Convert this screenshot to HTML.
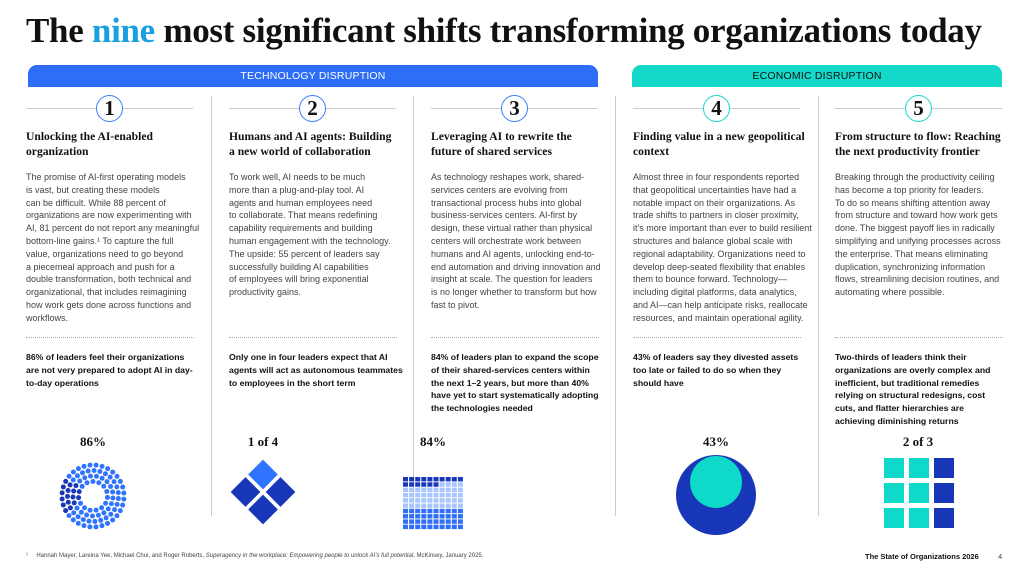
<!DOCTYPE html>
<html><head><meta charset="utf-8"><style>
*{margin:0;padding:0;box-sizing:border-box}
body{width:1024px;height:569px;background:#fff;position:relative;overflow:hidden;font-family:"Liberation Sans",sans-serif;color:#222}
.t{position:absolute;left:26px;top:11px;font-family:"Liberation Serif",serif;font-weight:bold;font-size:35px;color:#111;letter-spacing:-0.3px;white-space:nowrap}
.band{position:absolute;top:65px;height:22px;border-radius:9px 9px 0 0;font-size:10.5px;text-align:center;line-height:23px;letter-spacing:0.2px}
.col{position:absolute;top:95px;width:172px}
.num{position:absolute;top:0;width:27px;height:27px;border-radius:50%;border:1.5px solid #3b7bff;background:#fff;font-family:"Liberation Serif",serif;font-weight:bold;font-size:21px;text-align:center;line-height:25px;color:#111}
.hl{position:absolute;top:13px;left:0;width:167px;height:1px;background:#ccc}
.h{position:absolute;top:34px;left:0;font-family:"Liberation Serif",serif;font-weight:bold;font-size:11.6px;line-height:15px;color:#111;white-space:nowrap}
.b{position:absolute;top:76px;left:0;font-size:9px;line-height:12.8px;color:#444;white-space:nowrap}
.dl{position:absolute;top:242px;left:0;width:168px;border-top:1px dotted #aaa}
.s{position:absolute;top:256px;left:0;font-size:8.7px;line-height:12.8px;font-weight:bold;color:#111;white-space:nowrap}
.v{position:absolute;top:96px;width:1px;height:420px;background:#ccc}
.lab{position:absolute;font-family:"Liberation Serif",serif;font-weight:bold;font-size:13px;color:#111;text-align:center;width:80px}
</style></head><body>
<div class="t">The <span style="color:#1aa0e0">nine</span> most significant shifts transforming organizations today</div>
<div class="band" style="left:28px;width:570px;background:#2e6df6;color:#fff">TECHNOLOGY DISRUPTION</div>
<div class="band" style="left:632px;width:370px;background:#14d9c8;color:#111">ECONOMIC DISRUPTION</div>
<div class="v" style="left:211px"></div><div class="v" style="left:413px"></div><div class="v" style="left:615px"></div><div class="v" style="left:818px"></div>

<div class="col" style="left:26px"><div class="hl"></div><div class="num" style="left:70px">1</div>
<div class="h">Unlocking the AI-enabled<br>organization</div>
<div class="b">The promise of AI-first operating models<br>is vast, but creating these models<br>can be difficult. While 88 percent of<br>organizations are now experimenting with<br>AI, 81 percent do not report any meaningful<br>bottom-line gains.¹ To capture the full<br>value, organizations need to go beyond<br>a piecemeal approach and push for a<br>double transformation, both technical and<br>organizational, that includes reimagining<br>how work gets done across functions and<br>workflows.</div>
<div class="dl"></div>
<div class="s">86% of leaders feel their organizations<br>are not very prepared to adopt AI in day-<br>to-day operations</div></div>

<div class="col" style="left:229px"><div class="hl"></div><div class="num" style="left:70px">2</div>
<div class="h">Humans and AI agents: Building<br>a new world of collaboration</div>
<div class="b">To work well, AI needs to be much<br>more than a plug-and-play tool. AI<br>agents and human employees need<br>to collaborate. That means redefining<br>capability requirements and building<br>human engagement with the technology.<br>The upside: 55 percent of leaders say<br>successfully building AI capabilities<br>of employees will bring exponential<br>productivity gains.</div>
<div class="dl"></div>
<div class="s">Only one in four leaders expect that AI<br>agents will act as autonomous teammates<br>to employees in the short term</div></div>

<div class="col" style="left:431px"><div class="hl"></div><div class="num" style="left:70px">3</div>
<div class="h">Leveraging AI to rewrite the<br>future of shared services</div>
<div class="b">As technology reshapes work, shared-<br>services centers are evolving from<br>transactional process hubs into global<br>business-services centers. AI-first by<br>design, these virtual rather than physical<br>centers will orchestrate work between<br>humans and AI agents, unlocking end-to-<br>end automation and driving innovation and<br>insight at scale. The question for leaders<br>is no longer whether to transform but how<br>fast to pivot.</div>
<div class="dl"></div>
<div class="s">84% of leaders plan to expand the scope<br>of their shared-services centers within<br>the next 1–2 years, but more than 40%<br>have yet to start systematically adopting<br>the technologies needed</div></div>

<div class="col" style="left:633px"><div class="hl"></div><div class="num" style="left:70px;border-color:#14d9c8">4</div>
<div class="h">Finding value in a new geopolitical<br>context</div>
<div class="b">Almost three in four respondents reported<br>that geopolitical uncertainties have had a<br>notable impact on their organizations. As<br>trade shifts to partners in closer proximity,<br>it's more important than ever to build resilient<br>structures and balance global scale with<br>regional adaptability. Organizations need to<br>develop deep-seated flexibility that enables<br>them to bounce forward. Technology—<br>including digital platforms, data analytics,<br>and AI—can help anticipate risks, reallocate<br>resources, and maintain operational agility.</div>
<div class="dl"></div>
<div class="s">43% of leaders say they divested assets<br>too late or failed to do so when they<br>should have</div></div>

<div class="col" style="left:835px"><div class="hl"></div><div class="num" style="left:70px;border-color:#14d9c8">5</div>
<div class="h">From structure to flow: Reaching<br>the next productivity frontier</div>
<div class="b">Breaking through the productivity ceiling<br>has become a top priority for leaders.<br>To do so means shifting attention away<br>from structure and toward how work gets<br>done. The biggest payoff lies in radically<br>simplifying and unifying processes across<br>the enterprise. That means eliminating<br>duplication, synchronizing information<br>flows, streamlining decision routines, and<br>automating where possible.</div>
<div class="dl"></div>
<div class="s">Two-thirds of leaders think their<br>organizations are overly complex and<br>inefficient, but traditional remedies<br>relying on structural redesigns, cost<br>cuts, and flatter hierarchies are<br>achieving diminishing returns</div></div>

<div class="lab" style="left:53px;top:434px">86%</div>
<div class="lab" style="left:223px;top:434px">1 of 4</div>
<div class="lab" style="left:393px;top:434px">84%</div>
<div class="lab" style="left:676px;top:434px">43%</div>
<div class="lab" style="left:878px;top:434px">2 of 3</div>

<svg style="position:absolute;left:0;top:0" width="1024" height="569" id="g">
<g transform="translate(263,492)">
<rect x="-10.5" y="-10.5" width="21" height="21" fill="#2f74ff" transform="translate(0,-17.5) rotate(45)"/>
<rect x="-10.5" y="-10.5" width="21" height="21" fill="#1836b8" transform="translate(-17.5,0) rotate(45)"/>
<rect x="-10.5" y="-10.5" width="21" height="21" fill="#1836b8" transform="translate(17.5,0) rotate(45)"/>
<rect x="-10.5" y="-10.5" width="21" height="21" fill="#1836b8" transform="translate(0,17.5) rotate(45)"/>
</g>
<circle cx="716" cy="495" r="40" fill="#1836b8"/>
<circle cx="716" cy="482" r="26" fill="#0fd9c8"/>
<g id="sq"></g><g id="gr"></g><g id="dots"></g>
</svg>
<div style="position:absolute;left:26px;top:553px;font-size:6px;color:#444">¹&nbsp;&nbsp;&nbsp;&nbsp;&nbsp;Hannah Mayer, Lareina Yee, Michael Chui, and Roger Roberts, <i>Superagency in the workplace: Empowering people to unlock AI's full potential</i>, McKinsey, January 2025.</div>
<div style="position:absolute;left:865px;top:552px;font-size:7.5px;font-weight:bold;color:#111">The State of Organizations 2026</div>
<div style="position:absolute;left:998px;top:552px;font-size:7.5px;color:#444">4</div>
<script>
var ns="http://www.w3.org/2000/svg";
function el(p,t,a){var e=document.createElementNS(ns,t);for(var k in a)e.setAttribute(k,a[k]);document.getElementById(p).appendChild(e);}
for(var r=0;r<3;r++)for(var c=0;c<3;c++)el("sq","rect",{x:884+c*25,y:458+r*25,width:20,height:20,fill:c==2?"#1836b8":"#0fd9c8"});
for(var r=0;r<10;r++)for(var c=0;c<10;c++){var f=r==0||(r==1&&c<6)?"#1836b8":(r>=6?"#2f6ef5":"#a8c6ff");el("gr","rect",{x:403+c*6.1,y:477+r*5.3,width:5,height:4.4,fill:f});}
var rings=[[31,32],[25.5,27],[20,21],[14.5,15]];
rings.forEach(function(R){for(var i=0;i<R[1];i++){var a=2*Math.PI*i/R[1]+0.1;var x=93+R[0]*Math.cos(a),y=496+R[0]*Math.sin(a);var deg=a*180/Math.PI;var dark=deg>150&&deg<215;el("dots","circle",{cx:x,cy:y,r:2.5,fill:dark?"#1836b8":"#2f74ff"});}});
</script>
</body></html>
